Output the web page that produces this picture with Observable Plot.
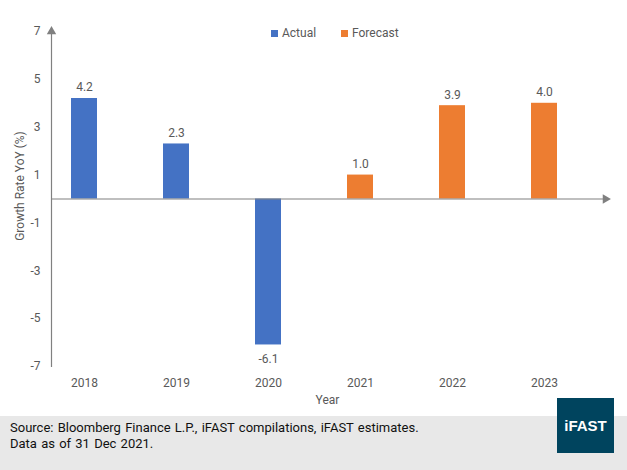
<!DOCTYPE html>
<html>
<head>
<meta charset="utf-8">
<script src="https://cdn.jsdelivr.net/npm/d3@7"></script>
<script src="https://cdn.jsdelivr.net/npm/@observablehq/plot@0.6"></script>
<style>
  html, body { margin: 0; padding: 0; background: #fff; }
  #wrap { position: relative; width: 627px; height: 470px; overflow: hidden; font-family: Roboto, "DejaVu Sans", sans-serif; }
  #legend { position: absolute; top: 26px; left: 0; width: 627px; font-size: 12px; color: #595959; }
  .item { position: absolute; display: flex; align-items: center; }
  .sw { width: 7px; height: 7px; margin-right: 4px; }
  #footer { position: absolute; top: 416px; left: 0; width: 627px; height: 54px; background: #e8e8e8; }
  #src { position: absolute; left: 10px; top: 4px; font-size: 13px; line-height: 16px; color: #111; word-spacing: 1px; }
  #logo { position: absolute; left: 557px; top: 398px; width: 57px; height: 55px; background: #00445e; color: #fff; font-weight: bold; font-size: 15px; display: flex; align-items: center; justify-content: center; font-family: "Liberation Sans", Arial, sans-serif; }
</style>
</head>
<body>
<div id="wrap">
  <div id="chart"></div>
  <div id="legend"></div>
  <div id="footer"><div id="src">Source: Bloomberg Finance L.P., iFAST compilations, iFAST estimates.<br>Data as of 31 Dec 2021.</div></div>
  <div id="logo">iFAST</div>
</div>
<script>
const years = ["2018", "2019", "2020", "2021", "2022", "2023"];
const growth = [4.2, 2.3, -6.1, 1.0, 3.9, 4.0];
const kinds = ["Actual", "Actual", "Actual", "Forecast", "Forecast", "Forecast"];
const yTicks = [-7, -5, -3, -1, 1, 3, 5, 7];
const seriesNames = ["Actual", "Forecast"];
const seriesColors = ["#4472c4", "#ed7d31"];

const data = years.map((y, i) => ({year: y, value: growth[i], kind: kinds[i]}));
const pos = data.filter(d => d.value >= 0);
const neg = data.filter(d => d.value < 0);
const txt = "#595959";
const axisGray = "#808080";

const chart = Plot.plot({
  width: 627,
  height: 416,
  marginLeft: 51,
  marginRight: 24,
  marginTop: 31,
  marginBottom: 50,
  style: {fontFamily: "Roboto, 'DejaVu Sans', sans-serif", fontSize: "12px", color: txt, background: "transparent"},
  x: {domain: years, range: [38, 590], paddingInner: 0.72, paddingOuter: 0.36, align: 0.5},
  y: {domain: [-7, 7]},
  color: {domain: seriesNames, range: seriesColors},
  marks: [
    Plot.barY(data, {x: "year", y: "value", fill: "kind"}),
    Plot.frame({anchor: "left", stroke: axisGray, strokeWidth: 1.2}),
    Plot.ruleY([0], {stroke: axisGray, strokeWidth: 1.2}),
    Plot.dot([0], {frameAnchor: "top-left", symbol: "triangle", r: 3.5, fill: axisGray, stroke: "none"}),
    Plot.dot([0], {y: d => d, frameAnchor: "right", symbol: "triangle", r: 3.5, rotate: 90, fill: axisGray, stroke: "none", dx: 2}),
    Plot.axisY({ticks: yTicks, tickSize: 0, tickPadding: 11, tickFormat: d => String(d), fontSize: 12, label: null, fill: txt}),
    Plot.axisX({tickSize: 0, tickPadding: 12, fontSize: 12, label: null, fill: txt}),
    Plot.text(pos, {x: "year", y: "value", text: d => d.value.toFixed(1), dy: -11, fill: txt, fontSize: 12}),
    Plot.text(neg, {x: "year", y: "value", text: d => d.value.toFixed(1), dy: 14, fill: txt, fontSize: 12}),
    Plot.text(["Year"], {frameAnchor: "bottom", dy: 37, fill: txt, fontSize: 12}),
    Plot.text(["Growth Rate YoY (%)"], {frameAnchor: "left", textAnchor: "middle", rotate: -90, dx: -31, dy: -13, fill: txt, fontSize: 12})
  ]
});
document.getElementById("chart").appendChild(chart);

const legend = document.getElementById("legend");
const legendX = [271, 341];
seriesNames.forEach((name, i) => {
  const item = document.createElement("div");
  item.className = "item";
  item.style.left = legendX[i] + "px";
  item.innerHTML = `<div class="sw" style="background:${seriesColors[i]}"></div><span>${name}</span>`;
  legend.appendChild(item);
});
</script>
</body>
</html>
